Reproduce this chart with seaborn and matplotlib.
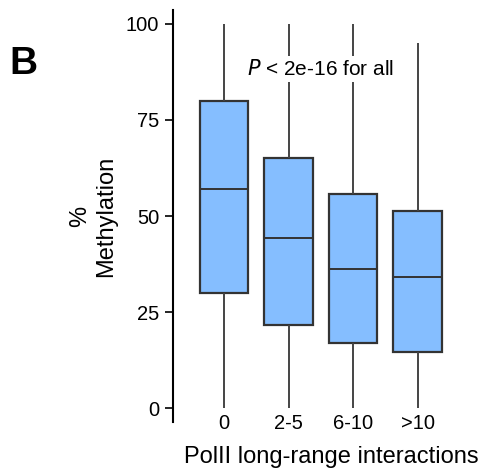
import seaborn as sns
import matplotlib.pyplot as plt
import pandas as pd

# five-number summaries (min, Q1, median, Q3, max)
categorias = ['0', '2-5', '6-10', '>10']
minimos = [0, 0, 0, 0]
q1 = [30, 21.6, 17, 14.5]
medianas = [57, 44.3, 36.3, 34.2]
q3 = [80, 65.2, 55.6, 51.2]
maximos = [100, 100, 100, 95]

filas = []
for i, cat in enumerate(categorias):
    for v in (minimos[i], q1[i], medianas[i], q3[i], maximos[i]):
        filas.append({'grupo': cat, 'metil': v})
df = pd.DataFrame(filas)

plt.rcParams['font.family'] = ['Liberation Sans', 'DejaVu Sans']

fig = plt.figure(figsize=(4.85, 4.68), dpi=100)
ax = fig.add_axes([173 / 485, 1 - 422 / 468, 297 / 485, 412 / 468])

edge = '#333333'
sns.boxplot(data=df, x='grupo', y='metil', order=categorias, ax=ax,
            color='#85BEFF', width=0.75, whis=(0, 100), saturation=1,
            linewidth=1.6, linecolor=edge, showcaps=False, fliersize=0,
            boxprops={'edgecolor': edge, 'facecolor': '#85BEFF'},
            whiskerprops={'color': '#444444', 'linewidth': 1.4},
            medianprops={'color': edge, 'linewidth': 1.4})

ax.set_ylim(-3.6, 103.6)
ax.set_xlim(-0.79, 3.81)
ax.set_yticks([0, 25, 50, 75, 100])
ax.tick_params(axis='y', length=6, width=1.2, labelsize=14.5, pad=4)
ax.tick_params(axis='x', length=0, labelsize=14.5, pad=-6)
for s in ('top', 'right', 'bottom'):
    ax.spines[s].set_visible(False)
ax.spines['left'].set_linewidth(1.5)

ax.set_xlabel('PolII long-range interactions', fontsize=17)
ax.xaxis.set_label_coords((331 - 173) / 297, -(446 - 422) / 412)
ax.set_ylabel('%\nMethylation', fontsize=17, linespacing=1.25)
ax.yaxis.set_label_coords(-(173 - 117) / 297, 0.5)

ax.text(1.49, 88.3, r'$\it{P}$ < 2e-16 for all', ha='center', va='center',
        fontsize=15, zorder=5,
        bbox=dict(facecolor='white', edgecolor='none', pad=2))

fig.text(23 / 485, 1 - 64 / 468, 'B', fontsize=28, fontweight='bold',
         ha='center', va='center')

fig.savefig('out.png', dpi=100)
